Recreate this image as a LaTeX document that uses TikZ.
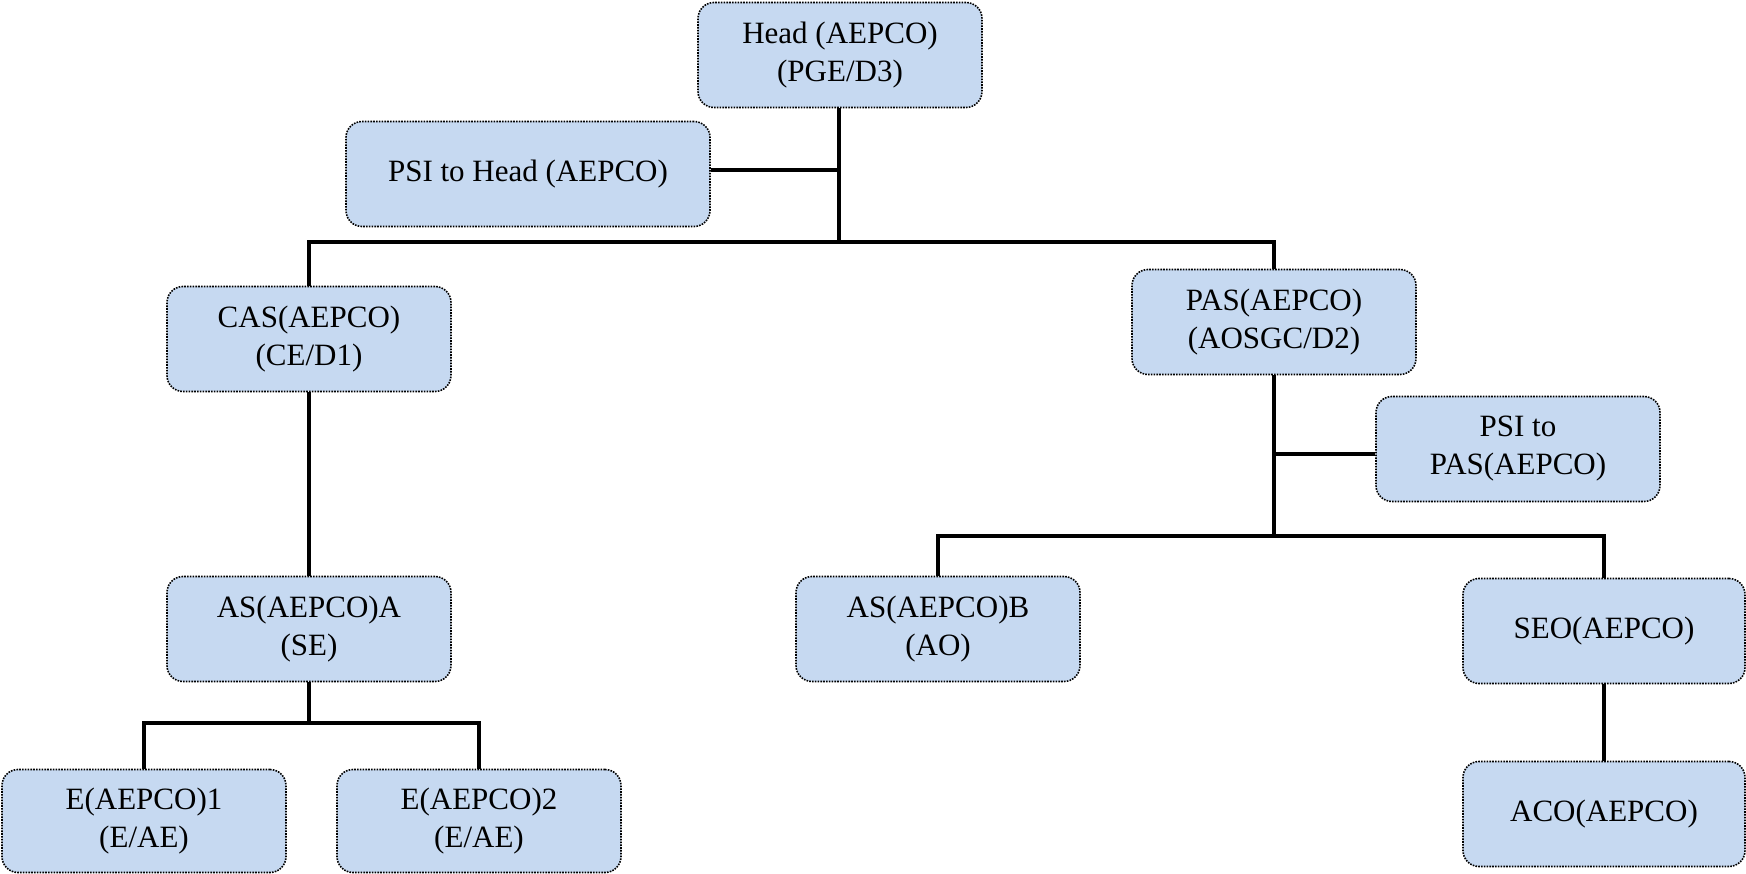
\documentclass[tikz,border=0pt]{standalone}
\usepackage{fontspec}
\setmainfont{Liberation Serif}
\definecolor{boxfill}{HTML}{C6D9F1}
\tikzset{
  orgbox/.style={draw=black, fill=boxfill, rounded corners=16pt, line width=1.6pt,
    dash pattern=on 1.6pt off 1.2pt, align=center, inner sep=0pt,
    font=\fontsize{31}{38}\selectfont, minimum width=284pt, minimum height=105pt},
  link/.style={draw=black, line width=3.6pt}
}
\begin{document}
\begin{tikzpicture}[x=1pt,y=-1pt]
\useasboundingbox (0,0) rectangle (1746,874);
\node[orgbox] (head) at (840,55) {Head (AEPCO)\\(PGE/D3)};
\node[orgbox, minimum width=364pt] (psih) at (528,174) {PSI to Head (AEPCO)};
\node[orgbox] (cas) at (309,339) {CAS(AEPCO)\\(CE/D1)};
\node[orgbox] (pas) at (1274,322) {PAS(AEPCO)\\(AOSGC/D2)};
\node[orgbox] (psip) at (1518,449) {PSI to\\PAS(AEPCO)};
\node[orgbox] (asa) at (309,629) {AS(AEPCO)A\\(SE)};
\node[orgbox] (asb) at (938,629) {AS(AEPCO)B\\(AO)};
\node[orgbox, minimum width=282pt] (seo) at (1604,631) {SEO(AEPCO)};
\node[orgbox, minimum width=282pt] (aco) at (1604,814) {ACO(AEPCO)};
\node[orgbox, minimum height=103pt] (e1) at (144,821) {E(AEPCO)1\\(E/AE)};
\node[orgbox, minimum height=103pt] (e2) at (479,821) {E(AEPCO)2\\(E/AE)};
\coordinate (b1) at (839,242);
\coordinate (b2) at (1274,536);
\coordinate (b3) at (309,723);
\coordinate (j1) at (839,170);
\coordinate (j2) at (1274,454);
\draw[link] (head.south -| b1) -- (b1);
\draw[link] (j1 -| psih.east) -- (j1);
\draw[link] (cas.north) -- (cas.north |- b1) -| (pas.north);
\draw[link] (cas.south) -- (asa.north);
\draw[link] (pas.south) -- (b2);
\draw[link] (j2 -| psip.west) -- (j2);
\draw[link] (asb.north) -- (asb.north |- b2) -| (seo.north);
\draw[link] (seo.south) -- (aco.north);
\draw[link] (asa.south) -- (b3);
\draw[link] (e1.north) -- (e1.north |- b3) -| (e2.north);
\end{tikzpicture}
\end{document}
